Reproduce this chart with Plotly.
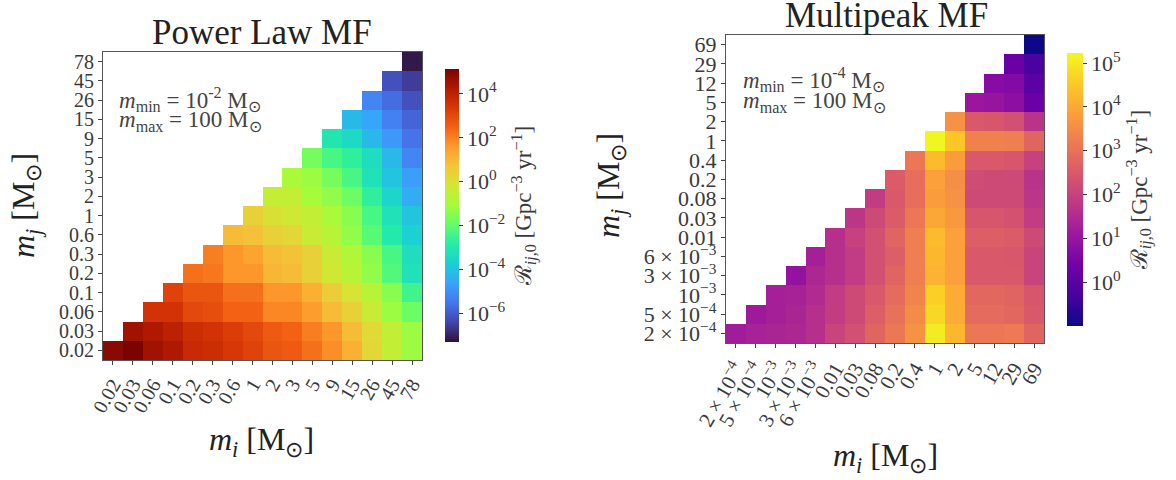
import plotly.graph_objects as go

# ---------------- data (log10 of merger rate, Gpc^-3 yr^-1) ----------------
pl_labels = ["0.02", "0.03", "0.06", "0.1", "0.2", "0.3", "0.6", "1", "2", "3",
             "5", "9", "15", "26", "45", "78"]
# row j lists values for columns i = j .. 15
pl_rows = [
    [4.89, 5.14, 4.52, 4.27, 3.77, 3.64, 3.40, 3.15, 2.77, 2.65, 2.27, 1.78, 1.15, 0.28, -0.47, -1.21],
    [4.52, 4.27, 4.02, 3.64, 3.52, 3.27, 3.02, 2.65, 2.52, 2.03, 1.65, 0.90, 0.16, -0.47, -1.21],
    [3.52, 3.52, 3.02, 2.90, 2.52, 2.52, 1.90, 1.90, 1.53, 0.90, 0.41, -0.34, -1.21, -1.84],
    [3.15, 2.77, 2.77, 2.27, 2.27, 1.65, 1.65, 1.15, 0.53, -0.09, -0.72, -1.46, -2.46],
    [2.27, 2.15, 1.65, 1.65, 1.03, 0.90, 0.41, -0.22, -0.72, -1.34, -2.21, -3.21],
    [2.03, 1.65, 1.40, 0.90, 0.78, 0.41, -0.34, -0.84, -1.46, -2.34, -3.33],
    [0.90, 0.78, 0.41, 0.28, -0.34, -0.72, -1.34, -2.09, -2.96, -3.71],
    [0.41, 0.03, -0.22, -0.47, -0.97, -1.46, -2.34, -3.21, -3.96],
    [-0.47, -0.47, -1.09, -1.34, -1.84, -2.71, -3.58, -4.45],
    [-0.97, -1.21, -1.71, -2.34, -3.21, -3.96, -4.70],
    [-1.71, -2.34, -2.71, -3.33, -4.21, -5.20],
    [-3.08, -3.46, -4.21, -4.83, -5.58],
    [-4.21, -4.58, -5.33, -5.83],
    [-5.20, -5.70, -6.20],
    [-6.20, -6.57],
    [-7.20],
]
pl_zrange = [-7.32, 5.14]
pl_cbar_vals = [-6, -4, -2, 0, 2, 4]
pl_cbar_text = ["10<sup>−6</sup>", "10<sup>−4</sup>", "10<sup>−2</sup>", "10<sup>0</sup>",
                "10<sup>2</sup>", "10<sup>4</sup>"]

mp_labels = ["2 × 10<sup>−4</sup>", "5 × 10<sup>−4</sup>", "10<sup>−3</sup>",
             "3 × 10<sup>−3</sup>", "6 × 10<sup>−3</sup>", "0.01", "0.03", "0.08",
             "0.2", "0.4", "1", "2", "5", "12", "29", "69"]
mp_rows = [
    [1.18, 1.31, 1.37, 1.43, 1.62, 2.05, 2.30, 2.74, 3.11, 3.61, 5.04, 4.23, 3.11, 3.11, 3.17, 2.74],
    [1.12, 1.24, 1.37, 1.62, 1.87, 2.18, 2.61, 2.99, 3.49, 4.73, 4.05, 2.86, 2.86, 2.80, 2.49],
    [1.24, 1.31, 1.49, 1.87, 2.18, 2.49, 2.86, 3.36, 4.61, 4.05, 2.80, 2.80, 2.74, 2.43],
    [0.93, 1.43, 1.62, 1.87, 2.30, 2.74, 3.24, 4.17, 3.86, 2.49, 2.49, 2.49, 2.05],
    [1.24, 1.62, 1.87, 2.30, 2.61, 3.24, 4.23, 3.86, 2.49, 2.49, 2.46, 2.05],
    [1.62, 1.99, 2.30, 2.74, 3.24, 4.30, 3.86, 2.61, 2.61, 2.55, 2.18],
    [1.74, 2.18, 2.55, 3.11, 3.98, 3.73, 2.43, 2.43, 2.36, 1.87],
    [1.87, 2.49, 2.92, 3.80, 3.61, 2.18, 2.18, 2.18, 1.74],
    [2.55, 2.92, 3.86, 3.55, 2.24, 2.18, 2.18, 1.68],
    [3.11, 4.30, 3.80, 2.49, 2.49, 2.43, 1.99],
    [5.17, 4.48, 3.30, 3.30, 3.24, 2.74],
    [3.61, 2.49, 2.43, 2.30, 1.68],
    [1.06, 0.99, 0.81, 0.25],
    [0.74, 0.68, 0.0],
    [0.25, -0.25],
    [-1.0],
]
mp_zrange = [-1.0, 5.23]
mp_cbar_vals = [0, 1, 2, 3, 4, 5]
mp_cbar_text = ["10<sup>0</sup>", "10<sup>1</sup>", "10<sup>2</sup>", "10<sup>3</sup>",
                "10<sup>4</sup>", "10<sup>5</sup>"]


def build_z(rows):
    n = len(rows)
    z = [[None] * n for _ in range(n)]
    for j, row in enumerate(rows):
        for k, v in enumerate(row):
            z[j][j + k] = v
    return z


FONT = "Liberation Serif"
TXT = "#3a3a3a"
W, H = 1176, 480


def fx(x):
    return x / W


def fy(y):
    return 1 - y / H


fig = go.Figure()
idx = list(range(16))

cb_title = "ℛ<sub><i>ij</i>,0</sub> [Gpc<sup>−3</sup> yr<sup>−1</sup>]"

fig.add_trace(go.Heatmap(
    z=build_z(pl_rows), x=idx, y=idx, colorscale="Turbo",
    zmin=pl_zrange[0], zmax=pl_zrange[1], xaxis="x", yaxis="y",
    hoverongaps=False,
    colorbar=dict(x=fx(445), xanchor="left", y=fy(205.5), yanchor="middle",
                  len=273 / H, lenmode="fraction", thickness=14, outlinewidth=0,
                  xpad=0, ypad=0,
                  tickvals=pl_cbar_vals, ticktext=pl_cbar_text, ticks="outside",
                  ticklen=4, tickcolor=TXT,
                  tickfont=dict(family=FONT, size=22, color=TXT),
                  title=dict(text=cb_title, side="right",
                             font=dict(family=FONT, size=23, color=TXT))),
))

fig.add_trace(go.Heatmap(
    z=build_z(mp_rows), x=idx, y=idx, colorscale="Plasma",
    zmin=mp_zrange[0], zmax=mp_zrange[1], xaxis="x2", yaxis="y2",
    hoverongaps=False,
    colorbar=dict(x=fx(1067), xanchor="left", y=fy(189.5), yanchor="middle",
                  len=273 / H, lenmode="fraction", thickness=16, outlinewidth=0,
                  xpad=0, ypad=0,
                  tickvals=mp_cbar_vals, ticktext=mp_cbar_text, ticks="outside",
                  ticklen=4, tickcolor=TXT,
                  tickfont=dict(family=FONT, size=22, color=TXT),
                  title=dict(text=cb_title, side="right",
                             font=dict(family=FONT, size=23, color=TXT))),
))

axis_common = dict(range=[-0.5, 15.5], tickvals=idx, showgrid=False, zeroline=False,
                   showline=True, mirror=True, linecolor="#555", linewidth=1.2,
                   ticks="outside", ticklen=4, tickcolor="#444", automargin=False)

fig.update_layout(
    width=W, height=H, margin=dict(l=0, r=0, t=0, b=0, autoexpand=False),
    paper_bgcolor="white", plot_bgcolor="white",
    xaxis=dict(axis_common, domain=[fx(103), fx(422)], anchor="y", ticktext=pl_labels,
               tickangle=-60, tickfont=dict(family=FONT, size=20, color=TXT)),
    yaxis=dict(axis_common, domain=[fy(360), fy(52)], anchor="x", ticktext=pl_labels,
               tickfont=dict(family=FONT, size=20, color=TXT)),
    xaxis2=dict(axis_common, domain=[fx(726), fx(1044)], anchor="y2", ticktext=mp_labels,
                tickangle=-60, tickfont=dict(family=FONT, size=21, color=TXT)),
    yaxis2=dict(axis_common, domain=[fy(343), fy(35)], anchor="x2", ticktext=mp_labels,
                tickfont=dict(family=FONT, size=22, color=TXT)),
)

ann = []
def add_text(x, y, text, size, color="#222", angle=0, xanchor="center", yanchor="middle"):
    ann.append(dict(x=fx(x), y=fy(y), xref="paper", yref="paper", text=text,
                    showarrow=False, textangle=angle, xanchor=xanchor, yanchor=yanchor,
                    font=dict(family=FONT, size=size, color=color)))

add_text(262, 33, "Power Law MF", 35)
add_text(886, -6, "Multipeak MF", 35, yanchor="top")
add_text(261, 441, "<i>m<sub>i</sub></i> [M<sub>⊙</sub>]", 32)
add_text(885, 457, "<i>m<sub>i</sub></i> [M<sub>⊙</sub>]", 32)
add_text(25, 206, "<i>m<sub>j</sub></i> [M<sub>⊙</sub>]", 32, angle=-90)
add_text(611, 186, "<i>m<sub>j</sub></i> [M<sub>⊙</sub>]", 32, angle=-90)
add_text(117, 99, "<i>m</i><sub>min</sub> = 10<sup>-2</sup> M<sub>⊙</sub>", 23, color="#444", xanchor="left")
add_text(117, 121, "<i>m</i><sub>max</sub> = 100 M<sub>⊙</sub>", 23, color="#444", xanchor="left")
add_text(741, 80, "<i>m</i><sub>min</sub> = 10<sup>-4</sup> M<sub>⊙</sub>", 23, color="#444", xanchor="left")
add_text(741, 102, "<i>m</i><sub>max</sub> = 100 M<sub>⊙</sub>", 23, color="#444", xanchor="left")
fig.update_layout(annotations=ann)

# remove the browser's default 8px page margin so the figure fills the window
fig.write_html("out.html", config={"displayModeBar": False},
               post_script="document.body.style.margin='0px';"
                           "document.documentElement.style.overflow='hidden';")
